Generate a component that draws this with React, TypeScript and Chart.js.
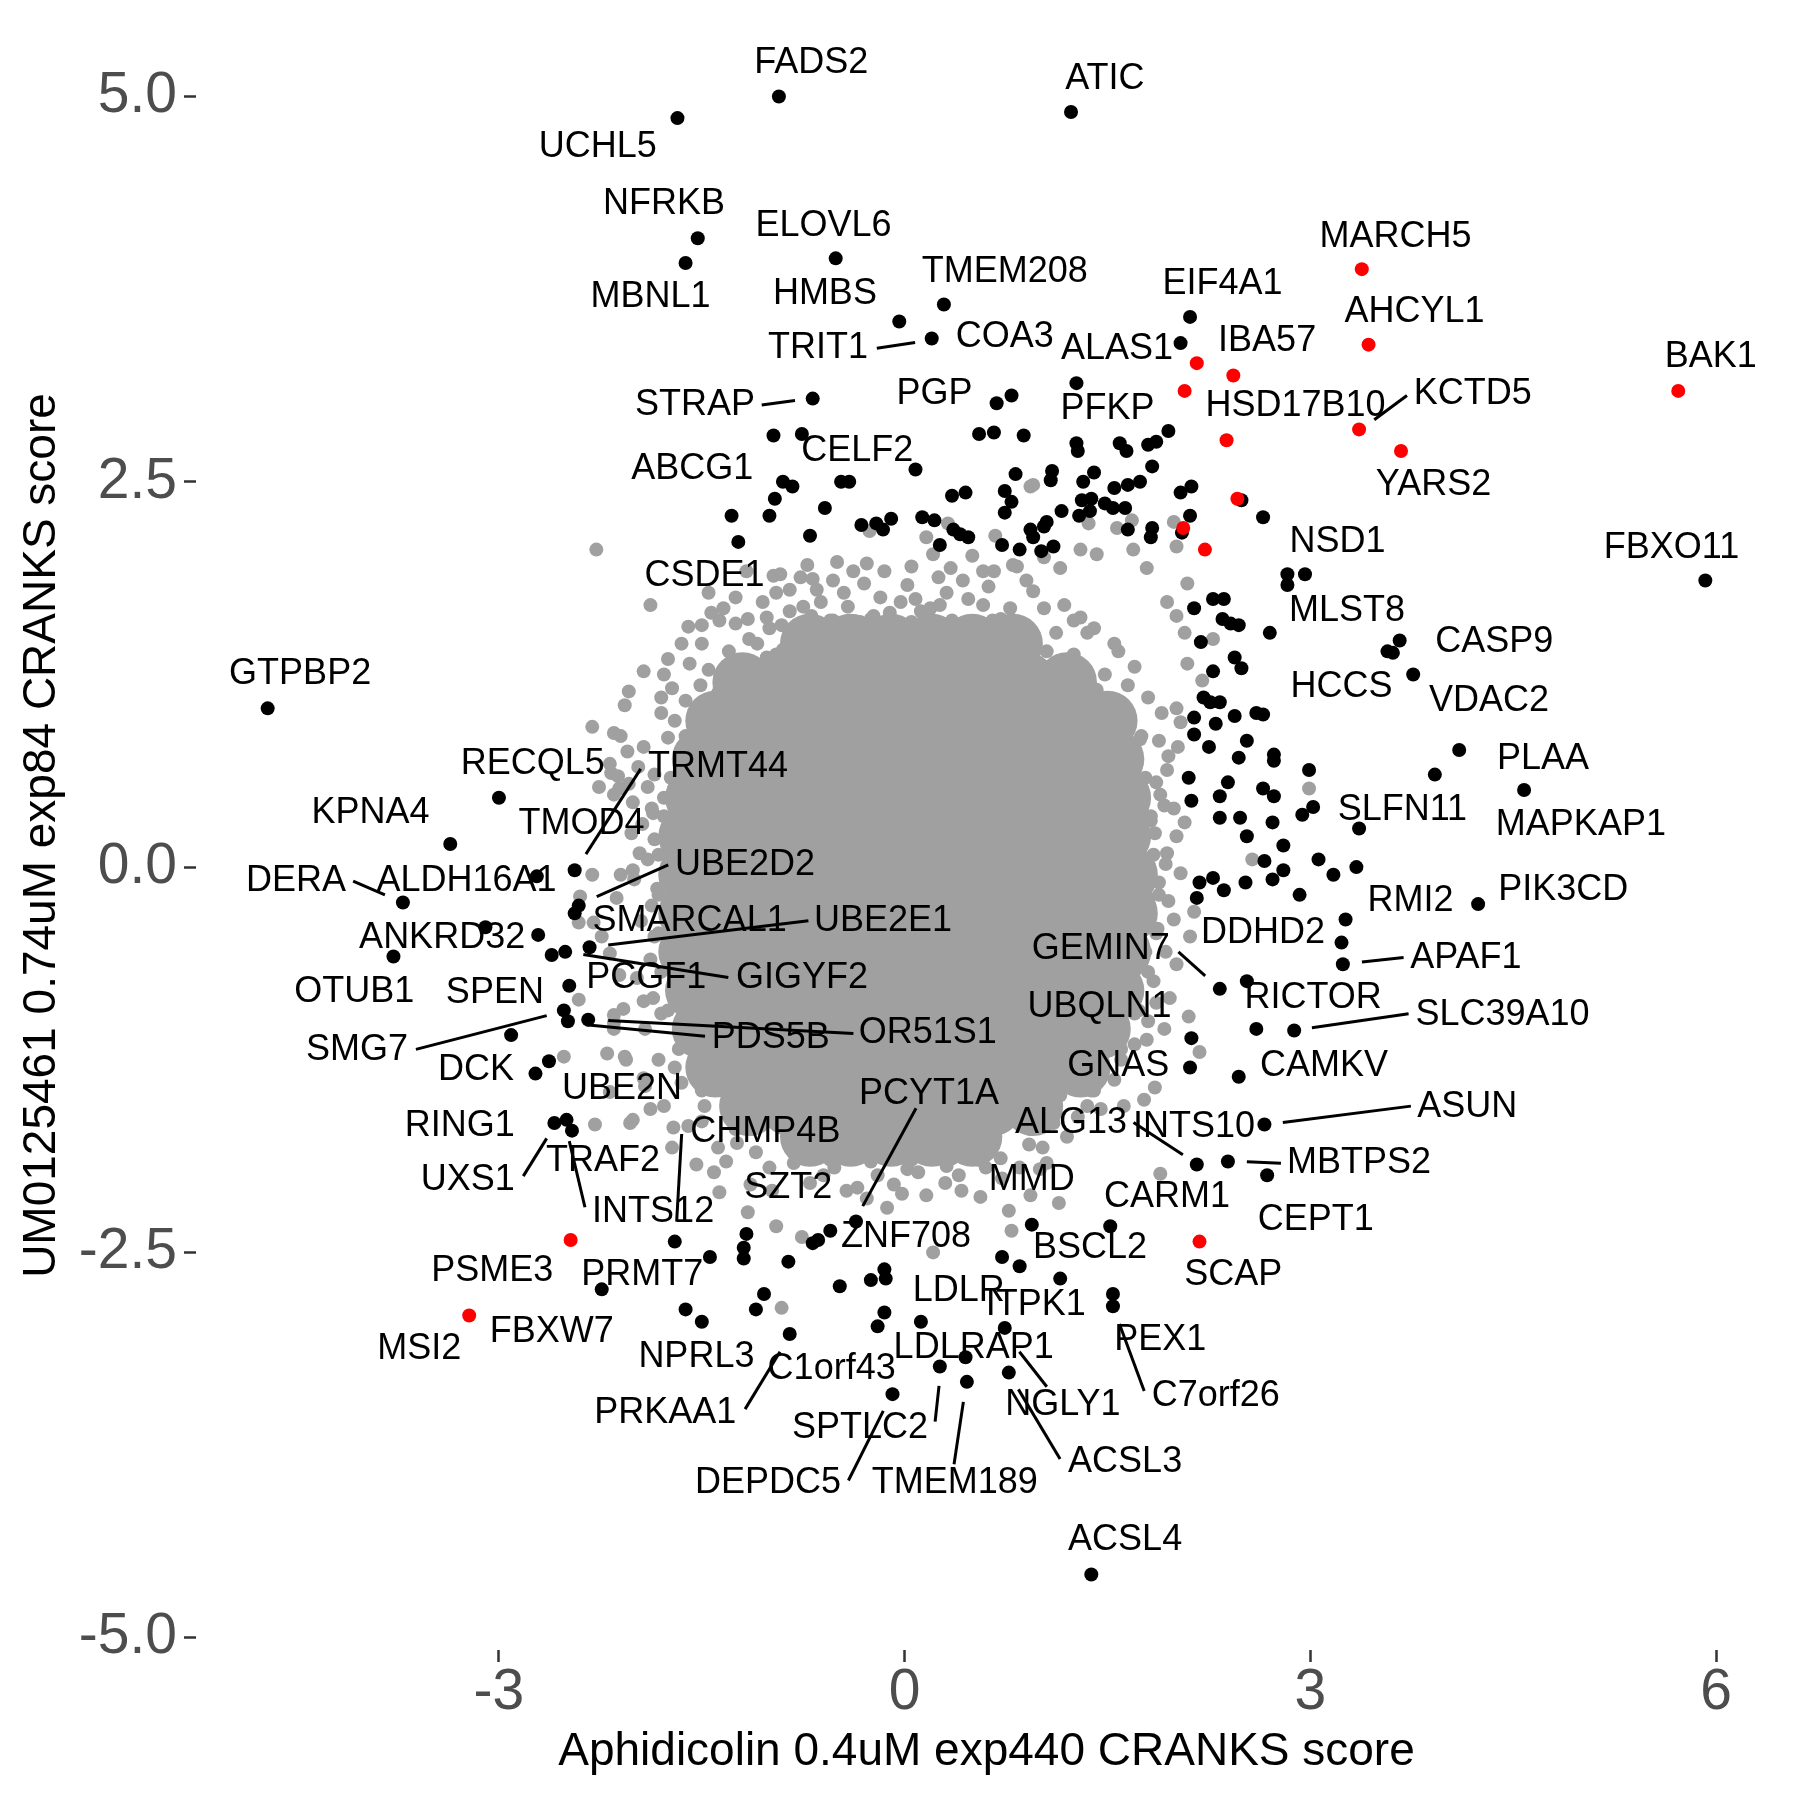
import React, { useEffect, useRef } from "react";
import { Chart, registerables } from "chart.js";
Chart.register(...registerables);

const xTicks = [-3, 0, 3, 6];
const yTicks = [-5, -2.5, 0, 2.5, 5];
const xLimits = [-5.24, 6.45];
const yLimits = [-5.08, 5.49];
const xTitle = "Aphidicolin 0.4uM exp440 CRANKS score";
const yTitle = "UM0125461 0.74uM exp84 CRANKS score";

// red highlighted genes
const redPoints: [number, number][] = [
  [3.38, 3.88], [3.43, 3.39], [2.16, 3.27], [2.43, 3.19], [2.07, 3.09], [2.38, 2.77],
  [3.36, 2.84], [3.67, 2.70], [2.46, 2.39], [2.06, 2.20], [2.22, 2.06], [5.72, 3.09],
  [-2.47, -2.42], [-3.22, -2.91], [2.18, -2.43],
];

// black hits
const blackPoints: [number, number][] = [
  [-0.93, 5.00], [-1.68, 4.86], [-1.53, 4.08], [-1.62, 3.92], [-0.51, 3.95], [-0.04, 3.54], [0.29, 3.65], [0.20, 3.43],
  [-0.68, 3.04], [0.68, 3.01], [0.79, 3.06], [-0.97, 2.80], [-0.76, 2.81], [0.55, 2.81], [0.66, 2.82], [0.88, 2.80],
  [0.08, 2.58], [0.82, 2.55], [-0.90, 2.50], [-0.83, 2.47], [-0.47, 2.50], [-0.41, 2.50], [0.35, 2.41], [0.45, 2.43],
  [0.74, 2.44], [0.79, 2.37], [0.74, 2.30], [-0.96, 2.39], [-1.00, 2.28], [-0.59, 2.33], [-1.28, 2.28], [-0.32, 2.22],
  [-0.21, 2.23], [-0.10, 2.26], [-0.16, 2.19], [0.13, 2.27], [0.22, 2.25], [0.36, 2.19], [0.47, 2.14], [0.41, 2.16],
  [0.93, 2.19], [1.03, 2.21], [0.95, 2.14], [1.05, 2.24], [-0.70, 2.15], [-1.23, 2.11], [0.26, 2.09], [0.72, 2.09],
  [0.85, 2.06], [1.01, 2.05],
  [1.23, 4.90], [2.11, 3.57], [2.04, 3.40], [1.27, 3.14], [1.27, 2.75], [1.28, 2.70], [1.59, 2.75], [1.64, 2.70],
  [1.80, 2.74], [1.86, 2.76], [1.95, 2.83], [1.83, 2.60], [1.09, 2.57], [1.08, 2.51], [1.40, 2.56], [1.32, 2.50],
  [1.55, 2.46], [1.65, 2.48], [1.74, 2.50], [2.04, 2.43], [2.12, 2.47], [2.49, 2.38], [2.65, 2.27], [2.11, 2.28],
  [1.16, 2.31], [1.31, 2.38], [1.38, 2.39], [1.29, 2.28], [1.37, 2.31], [1.48, 2.36], [1.54, 2.33], [1.63, 2.33],
  [1.83, 2.20], [1.82, 2.14], [1.10, 2.08], [1.65, 2.19], [2.83, 1.90], [2.96, 1.90], [2.05, 2.17], [5.92, 1.86],
  [2.83, 1.83], [2.28, 1.74], [2.36, 1.74], [2.14, 1.68], [2.35, 1.61], [2.41, 1.58], [2.47, 1.57], [2.70, 1.52],
  [2.19, 1.46], [3.66, 1.47], [3.57, 1.40], [3.61, 1.39], [2.44, 1.36], [2.49, 1.29], [2.28, 1.27], [3.76, 1.25],
  [2.21, 1.10], [2.33, 1.07], [2.26, 1.07], [2.44, 0.98], [2.60, 1.00], [2.65, 0.99], [2.14, 0.97], [2.30, 0.93],
  [2.14, 0.86], [2.53, 0.82], [2.25, 0.78], [2.47, 0.71], [2.73, 0.73], [2.73, 0.69], [4.10, 0.76], [2.99, 0.63],
  [2.10, 0.58], [2.39, 0.55], [3.92, 0.60], [2.65, 0.51], [2.73, 0.46], [2.33, 0.46], [2.12, 0.43], [3.02, 0.39],
  [2.94, 0.34], [2.33, 0.32], [2.48, 0.32], [2.72, 0.29], [3.36, 0.25], [2.53, 0.20], [2.80, 0.14], [2.66, 0.04],
  [3.06, 0.05], [2.80, -0.02], [2.72, -0.08], [3.34, 0.00], [3.17, -0.05], [2.18, -0.10], [2.28, -0.07], [2.36, -0.15],
  [2.52, -0.10], [2.16, -0.20], [2.92, -0.18], [3.26, -0.34], [3.23, -0.49], [3.24, -0.63], [2.33, -0.79], [2.53, -0.74],
  [2.60, -1.05], [2.88, -1.06], [2.12, -1.11], [2.11, -1.30], [2.47, -1.36], [4.58, 0.50], [4.24, -0.24],
  [-4.71, 1.03], [-3.00, 0.45], [-3.36, 0.15], [-2.44, -0.02], [-2.72, -0.06], [-3.71, -0.23], [-2.44, -0.30], [-2.41, -0.25],
  [-3.10, -0.39], [-2.71, -0.44], [-3.78, -0.58], [-2.61, -0.57], [-2.51, -0.55], [-2.33, -0.52], [-2.48, -0.77], [-2.52, -0.93],
  [-2.49, -1.00], [-2.34, -0.99], [-2.91, -1.09], [-2.63, -1.26], [-2.73, -1.34],
  [-2.59, -1.66], [-2.50, -1.64], [-2.46, -1.71], [-2.24, -2.74],
  [-1.70, -2.43], [-1.44, -2.53], [-1.17, -2.38], [-1.19, -2.47], [-1.19, -2.54], [-0.86, -2.56], [-0.68, -2.44], [-0.64, -2.42],
  [-0.55, -2.36], [-0.36, -2.30], [-1.04, -2.77], [-1.10, -2.87], [-1.62, -2.87], [-1.50, -2.95], [-0.48, -2.72], [-0.25, -2.68],
  [-0.15, -2.61], [-0.14, -2.67], [-0.85, -3.03], [-0.15, -2.89], [-0.20, -2.98], [0.12, -2.95], [0.74, -2.99], [0.26, -3.24],
  [0.45, -3.18], [0.46, -3.34], [-0.09, -3.42], [0.77, -3.28], [0.94, -2.32], [0.72, -2.53], [0.85, -2.59],
  [2.66, -1.67], [2.16, -1.93], [2.39, -1.91], [2.68, -2.00], [1.52, -2.33], [1.15, -2.67], [1.54, -2.77], [1.54, -2.85],
  [1.38, -4.59],
];

// individual grey (non-hit) genes around the edge of the cloud
const greyPoints: [number, number][] = [
  [-2.28, 2.06],
  [-2.04, 1.14], [-2.07, 1.05], [-2.31, 0.91], [-2.10, 0.85], [-2.18, 0.67], [-2.12, 0.59], [-2.26, 0.52], [-2.15, 0.47],
  [-2.04, 0.54], [-2.31, -0.05], [-2.10, -0.05], [-2.40, -0.19], [-2.41, -0.36], [-2.30, -0.36], [-2.24, -0.45], [-2.41, -0.86],
  [-2.08, -0.92], [-2.15, -1.01], [-2.52, -1.23], [-2.07, -1.23], [-2.15, -1.05], [-2.29, -1.67], [-2.03, -1.66],
  [-1.88, 1.70], [-0.97, 1.89], [-0.77, 1.88], [-0.95, 1.78], [-0.65, 1.80], [-0.53, 1.86], [-0.38, 1.92], [-0.28, 1.97],
  [0.66, 1.92], [0.83, 1.95], [-1.43, 1.65], [-1.50, 1.57], [-1.37, 1.60], [-1.16, 1.61], [-1.02, 1.62], [-0.91, 1.57],
  [-0.75, 1.69], [-0.69, 1.63], [-0.53, 1.60], [-0.42, 1.69], [-0.33, 1.59], [-0.23, 1.63], [-0.11, 1.65], [-0.03, 1.72],
  [0.08, 1.74], [0.19, 1.68], [0.31, 1.78], [0.43, 1.86], [0.58, 1.70], [0.71, 1.61], [0.95, 1.79], [1.03, 1.68],
  [-1.93, 1.27], [-1.78, 1.25], [-1.72, 1.16], [-1.59, 1.32], [-1.51, 1.18], [-1.40, 1.10], [-1.29, 1.18], [-1.22, 1.27],
  [-1.09, 1.30], [-1.02, 1.36], [-0.90, 1.41], [-0.82, 1.27], [-0.68, 1.43], [-0.63, 1.32], [-0.53, 1.48], [-2.15, 0.87],
  [-1.93, 0.78], [-1.75, 0.84], [-1.97, 0.65], [-1.85, 0.60], [-1.65, 0.74], [-1.54, 0.94], [-2.17, 0.61], [-2.11, 0.51],
  [-2.01, 0.42], [-1.87, 0.38], [-1.78, 0.45], [-1.69, 0.45], [-1.59, 0.56], [-1.85, 0.18], [-1.96, 0.09], [-2.01, -0.02],
  [-2.13, -0.20], [-1.83, -0.14], [-2.18, -0.56], [-2.11, -0.70], [-1.93, -0.87], [-2.15, -0.96], [-2.20, -1.21], [-2.06, -1.25],
  [-1.93, -1.37], [-2.18, -1.46],
  [-2.01, -1.64], [-1.88, -1.57], [-1.71, -1.69], [-1.72, -1.82], [-1.54, -1.93], [-1.41, -1.98], [-1.32, -1.91], [-1.24, -1.79],
  [-1.37, -2.11], [-1.14, -2.06], [-1.16, -2.24], [-0.95, -2.33], [-0.76, -2.40], [-0.91, -2.86], [-0.43, -2.10], [-0.28, -2.15],
  [-0.13, -2.21], [-0.08, -2.06], [0.02, -1.96], [0.16, -2.13], [0.21, -2.50], [0.31, -1.94], [0.56, -2.14], [0.77, -2.23],
  [0.79, -2.36], [0.93, -2.13], [1.00, -1.96], [0.71, -1.89],
  [0.93, -1.43], [1.15, -1.48], [1.45, -1.57], [1.77, -1.51], [1.85, -1.43], [1.89, -1.99], [1.14, -2.18], [1.05, -1.92],
  [0.92, -1.80], [1.10, -1.66],
  [2.09, 1.84], [1.94, 1.72], [2.01, 1.63], [2.07, 1.52], [2.28, 1.48], [2.20, 1.21], [2.09, 1.32], [2.01, 1.03],
  [2.04, 0.94], [2.02, 0.78], [1.94, 0.63], [1.89, 0.47], [1.99, 0.38], [2.07, 0.29], [2.01, 0.20], [1.94, 0.09],
  [2.04, -0.04], [2.14, -0.29], [2.11, -0.45], [1.99, -0.34], [1.84, -0.74], [1.96, -0.85], [2.10, -0.97], [2.18, -1.20],
  [2.99, 0.51], [2.57, 0.05], [1.79, -1.12], [2.01, -0.63],
  [0.95, 2.48], [1.68, 2.25], [1.99, 2.24], [2.01, 2.08], [1.36, 2.23], [1.57, 2.20], [1.30, 2.06], [1.42, 2.03],
  [1.69, 2.06], [1.15, 1.94], [1.79, 1.94],
  [0.32, 2.23], [-0.26, 2.18], [0.16, 2.14], [0.67, 2.15], [0.21, 2.03], [0.93, 2.47], [0.80, 1.96], [0.34, 1.94],
  [0.58, 1.92], [-0.68, 1.87], [-1.17, 1.92], [1.03, 2.01], [-0.92, 1.90], [-1.60, 1.56], [-1.34, 1.68], [-1.09, 1.45],
  [1.55, 1.45], [1.70, 1.30], [1.80, 1.10], [1.75, 0.85], [1.82, 0.30], [1.80, -0.20], [1.78, -0.55], [1.70, -0.95],
  [1.60, -1.25], [1.35, -1.55], [1.25, 1.60], [1.40, 1.55], [-1.80, 1.00], [-1.85, -0.45], [-1.80, -0.95], [-1.70, -1.30],
  [-1.50, -1.65], [-1.00, -1.95], [-0.60, -2.00], [0.40, -2.00], [0.60, -1.95],
  [-0.85, 1.66], [-0.62, 1.72], [-0.45, 1.78], [-0.18, 1.75], [0.02, 1.83], [0.26, 1.70], [0.47, 1.74], [0.62, 1.82],
  [0.78, 1.68], [0.90, 1.86], [-0.30, 1.84], [0.12, 1.66],
  [1.12, 1.52], [1.25, 1.38], [1.18, 1.70], [1.35, 1.52], [1.48, 1.25], [1.42, 1.10], [1.58, 1.40], [1.65, 1.18], [1.30, 1.62],
  [1.90, 1.00], [1.88, 0.82], [1.95, 0.72], [1.86, 0.55], [1.92, 0.40], [1.85, 0.22], [1.93, 0.02], [1.88, -0.10],
  [1.95, -0.22], [1.87, -0.40], [1.93, -0.55], [1.86, -0.88], [1.80, -1.00], [1.70, -1.15], [1.92, -1.05],
  [1.55, -1.38], [1.40, -1.45], [1.62, -1.55], [1.28, -1.62], [1.20, -1.75], [1.02, -1.82], [0.90, -1.65], [0.85, -1.95],
  [0.72, -2.02], [0.55, -1.90], [0.42, -2.10], [0.30, -2.05], [0.10, -1.98], [-0.02, -2.12], [-0.20, -2.00], [-0.35, -2.08],
  [-0.52, -1.95], [-0.70, -2.05], [-0.82, -1.92], [-0.98, -2.10], [-1.10, -1.85],
  [-1.25, -1.70], [-1.38, -1.82], [-1.48, -1.55], [-1.60, -1.68], [-1.65, -1.40], [-1.78, -1.55], [-1.82, -1.25], [-1.92, -1.42],
  [-1.92, -1.05], [-1.86, -0.85], [-1.98, -0.72], [-1.88, -0.60], [-1.95, -0.35], [-1.87, -0.25], [-2.00, -0.08], [-1.90, 0.05],
  [-1.94, 0.28], [-1.86, 0.35], [-2.02, 0.22], [-1.90, 0.52], [-2.05, 0.75],
  [-1.70, 0.95], [-1.62, 1.08], [-1.80, 1.10], [-1.45, 1.28], [-1.30, 1.40], [-1.50, 1.45], [-1.15, 1.48], [-1.25, 1.58],
  [-1.00, 1.55], [-0.80, 1.55],
  [-1.25, 1.75], [-1.05, 1.72], [-0.85, 1.80], [-1.45, 1.78], [-0.72, 1.96], [-0.50, 1.98], [-0.15, 1.92], [0.05, 1.95],
  [0.25, 1.88], [0.50, 2.02], [-1.65, 1.45], [-1.75, 1.35],
  [-0.55, 1.60], [-0.25, 1.61], [0.05, 1.59], [0.35, 1.60], [0.65, 1.60], [-0.95, 1.38], [1.05, 1.40], [-1.38, 1.13],
  [1.42, 1.15], [-1.62, 0.85], [1.74, 0.83], [-1.73, 0.58], [1.78, 0.58], [-1.78, 0.33], [1.82, 0.33], [-1.82, 0.08],
  [1.84, 0.08], [-1.82, -0.18], [1.88, -0.18], [-1.82, -0.43], [1.86, -0.43], [-1.80, -0.68], [1.80, -0.68], [-1.75, -0.93],
  [1.73, -0.93], [-1.67, -1.18], [1.60, -1.18], [-1.50, -1.45], [1.38, -1.45], [-1.12, -1.70], [0.93, -1.70], [-0.55, -1.90],
  [-0.25, -1.91], [0.05, -1.90], [0.35, -1.89],
];

// the solid, fully overlapping centre of the grey cloud
const greyCore: [number, number][] = [
  [-0.70, 1.45], [-0.40, 1.45], [-0.10, 1.45], [0.20, 1.45], [0.50, 1.45], [0.80, 1.45],
  [-1.20, 1.20], [-0.90, 1.20], [-0.60, 1.20], [-0.30, 1.20], [0.00, 1.20], [0.30, 1.20], [0.60, 1.20], [0.90, 1.20], [1.20, 1.20],
  [-1.40, 0.95], [-1.10, 0.95], [-0.80, 0.95], [-0.50, 0.95], [-0.20, 0.95], [0.10, 0.95], [0.40, 0.95], [0.70, 0.95], [1.00, 0.95], [1.30, 0.95], [1.50, 0.95],
  [-1.50, 0.70], [-1.20, 0.70], [-0.90, 0.70], [-0.60, 0.70], [-0.30, 0.70], [0.00, 0.70], [0.30, 0.70], [0.60, 0.70], [0.90, 0.70], [1.20, 0.70], [1.55, 0.70],
  [-1.55, 0.45], [-1.25, 0.45], [-0.95, 0.45], [-0.65, 0.45], [-0.35, 0.45], [-0.05, 0.45], [0.25, 0.45], [0.55, 0.45], [0.85, 0.45], [1.15, 0.45], [1.45, 0.45], [1.60, 0.45],
  [-1.60, 0.20], [-1.30, 0.20], [-1.00, 0.20], [-0.70, 0.20], [-0.40, 0.20], [-0.10, 0.20], [0.20, 0.20], [0.50, 0.20], [0.80, 0.20], [1.10, 0.20], [1.40, 0.20], [1.60, 0.20],
  [-1.60, -0.05], [-1.30, -0.05], [-1.00, -0.05], [-0.70, -0.05], [-0.40, -0.05], [-0.10, -0.05], [0.20, -0.05], [0.50, -0.05], [0.80, -0.05], [1.10, -0.05], [1.40, -0.05], [1.65, -0.05],
  [-1.60, -0.30], [-1.30, -0.30], [-1.00, -0.30], [-0.70, -0.30], [-0.40, -0.30], [-0.10, -0.30], [0.20, -0.30], [0.50, -0.30], [0.80, -0.30], [1.10, -0.30], [1.40, -0.30], [1.65, -0.30],
  [-1.60, -0.55], [-1.30, -0.55], [-1.00, -0.55], [-0.70, -0.55], [-0.40, -0.55], [-0.10, -0.55], [0.20, -0.55], [0.50, -0.55], [0.80, -0.55], [1.10, -0.55], [1.40, -0.55], [1.60, -0.55],
  [-1.55, -0.80], [-1.25, -0.80], [-0.95, -0.80], [-0.65, -0.80], [-0.35, -0.80], [-0.05, -0.80], [0.25, -0.80], [0.55, -0.80], [0.85, -0.80], [1.15, -0.80], [1.45, -0.80], [1.55, -0.80],
  [-1.50, -1.05], [-1.20, -1.05], [-0.90, -1.05], [-0.60, -1.05], [-0.30, -1.05], [0.00, -1.05], [0.30, -1.05], [0.60, -1.05], [0.90, -1.05], [1.20, -1.05], [1.45, -1.05],
  [-1.40, -1.30], [-1.10, -1.30], [-0.80, -1.30], [-0.50, -1.30], [-0.20, -1.30], [0.10, -1.30], [0.40, -1.30], [0.70, -1.30], [1.00, -1.30], [1.30, -1.30],
  [-1.15, -1.55], [-0.85, -1.55], [-0.55, -1.55], [-0.25, -1.55], [0.05, -1.55], [0.35, -1.55], [0.65, -1.55], [0.95, -1.55],
  [-0.70, -1.75], [-0.40, -1.75], [-0.10, -1.75], [0.20, -1.75], [0.50, -1.75],
];

// gene labels (text, x, y of the label centre in data units)
const geneLabels: [string, number, number][] = [
  ["FADS2", -0.69, 5.22], ["UCHL5", -2.27, 4.67], ["ATIC", 1.48, 5.11], ["NFRKB", -1.78, 4.30],
  ["MBNL1", -1.88, 3.70], ["ELOVL6", -0.60, 4.16], ["HMBS", -0.59, 3.72], ["TMEM208", 0.74, 3.86],
  ["TRIT1", -0.64, 3.37], ["COA3", 0.74, 3.44], ["STRAP", -1.55, 3.00], ["PGP", 0.22, 3.07],
  ["CELF2", -0.35, 2.70], ["ABCG1", -1.57, 2.58], ["CSDE1", -1.48, 1.89], ["MARCH5", 3.63, 4.09],
  ["EIF4A1", 2.35, 3.78], ["AHCYL1", 3.77, 3.60], ["ALAS1", 1.57, 3.36], ["IBA57", 2.68, 3.41],
  ["PFKP", 1.50, 2.97], ["HSD17B10", 2.89, 2.99], ["KCTD5", 4.20, 3.07], ["YARS2", 3.91, 2.48],
  ["NSD1", 3.20, 2.11], ["BAK1", 5.96, 3.31], ["FBXO11", 5.67, 2.07], ["MLST8", 3.27, 1.66],
  ["CASP9", 4.36, 1.46], ["HCCS", 3.23, 1.17], ["VDAC2", 4.32, 1.08], ["PLAA", 4.72, 0.70],
  ["MAPKAP1", 5.00, 0.27], ["SLFN11", 3.68, 0.37], ["PIK3CD", 4.87, -0.15], ["RMI2", 3.74, -0.22],
  ["DDHD2", 2.65, -0.43], ["APAF1", 4.15, -0.59], ["GEMIN7", 1.45, -0.53], ["RICTOR", 3.02, -0.85],
  ["UBQLN1", 1.44, -0.91], ["SLC39A10", 4.42, -0.96], ["GNAS", 1.58, -1.29], ["CAMKV", 3.10, -1.29],
  ["GTPBP2", -4.47, 1.25], ["RECQL5", -2.75, 0.67], ["KPNA4", -3.95, 0.35], ["TMOD4", -2.39, 0.28],
  ["TRMT44", -1.38, 0.65], ["DERA", -4.50, -0.09], ["ALDH16A1", -3.24, -0.09], ["ANKRD32", -3.42, -0.46],
  ["OTUB1", -4.07, -0.81], ["SPEN", -3.03, -0.82], ["SMG7", -4.05, -1.19], ["DCK", -3.17, -1.32],
  ["UBE2D2", -1.18, 0.01], ["SMARCAL1", -1.59, -0.35], ["UBE2E1", -0.16, -0.35], ["GIGYF2", -0.76, -0.72],
  ["PCGF1", -1.91, -0.72], ["OR51S1", 0.17, -1.08], ["PDS5B", -0.99, -1.11], ["UBE2N", -2.09, -1.44],
  ["PCYT1A", 0.18, -1.47], ["RING1", -3.29, -1.68], ["UXS1", -3.23, -2.03], ["TRAF2", -2.23, -1.91],
  ["INTS12", -1.86, -2.24], ["CHMP4B", -1.03, -1.72], ["SZT2", -0.86, -2.08], ["ZNF708", 0.01, -2.40],
  ["PSME3", -3.05, -2.62], ["PRMT7", -1.94, -2.65], ["FBXW7", -2.61, -3.02], ["MSI2", -3.59, -3.13],
  ["NPRL3", -1.54, -3.18], ["PRKAA1", -1.77, -3.54], ["C1orf43", -0.54, -3.26], ["LDLR", 0.40, -2.75],
  ["ITPK1", 0.97, -2.84], ["LDLRAP1", 0.51, -3.12], ["SPTLC2", -0.33, -3.64], ["DEPDC5", -1.01, -4.00],
  ["TMEM189", 0.37, -4.00], ["NGLY1", 1.17, -3.49], ["ACSL3", 1.63, -3.86], ["PEX1", 1.89, -3.07],
  ["C7orf26", 2.30, -3.43], ["ACSL4", 1.63, -4.37], ["SCAP", 2.43, -2.65], ["BSCL2", 1.37, -2.47],
  ["CARM1", 1.94, -2.14], ["CEPT1", 3.04, -2.29], ["MBTPS2", 3.36, -1.92], ["INTS10", 2.14, -1.69],
  ["ALG13", 1.23, -1.66], ["MMD", 0.94, -2.03], ["ASUN", 4.16, -1.56],
];

// leader segments joining a label to its gene (x1, y1, x2, y2 in data units)
const leaderSegments: [number, number, number, number][] = [
  [-0.206, 3.367, 0.077, 3.404],
  [-1.057, 2.999, -0.811, 3.027],
  [3.714, 3.060, 3.472, 2.903],
  [3.381, -0.616, 3.689, -0.587],
  [2.024, -0.550, 2.222, -0.706],
  [3.011, -1.042, 3.726, -0.952],
  [-1.952, 0.637, -2.357, 0.084],
  [-4.078, -0.091, -3.843, -0.180],
  [-3.614, -1.183, -2.647, -0.964],
  [-1.748, 0.014, -2.277, -0.191],
  [-0.712, -0.348, -2.192, -0.505],
  [-1.304, -0.717, -2.376, -0.567],
  [-0.379, -1.080, -2.192, -0.995],
  [-1.476, -1.098, -2.357, -1.023],
  [0.084, -1.565, -0.310, -2.200],
  [-2.820, -2.005, -2.647, -1.760],
  [-2.480, -1.778, -2.364, -2.207],
  [-1.649, -1.732, -1.686, -2.300],
  [-1.180, -3.517, -0.922, -3.145],
  [0.254, -3.366, 0.225, -3.598],
  [-0.416, -3.980, -0.158, -3.528],
  [0.365, -3.875, 0.434, -3.470],
  [0.848, -3.145, 1.051, -3.372],
  [0.841, -3.389, 1.149, -3.841],
  [1.771, -3.400, 1.588, -2.965],
  [2.530, -1.912, 2.782, -1.922],
  [1.692, -1.657, 2.057, -1.866],
  [2.796, -1.657, 3.743, -1.551],
];

const FONT = '"Liberation Sans", Arial, Helvetica, sans-serif';

const labelPlugin = {
  id: "geneLabels",
  afterDatasetsDraw(chart: any) {
    const { ctx } = chart;
    const xs = chart.scales.x;
    const ys = chart.scales.y;
    ctx.save();
    ctx.strokeStyle = "#000000";
    ctx.lineWidth = 3;
    ctx.lineCap = "butt";
    leaderSegments.forEach(([x1, y1, x2, y2]) => {
      ctx.beginPath();
      ctx.moveTo(xs.getPixelForValue(x1), ys.getPixelForValue(y1));
      ctx.lineTo(xs.getPixelForValue(x2), ys.getPixelForValue(y2));
      ctx.stroke();
    });
    ctx.fillStyle = "#000000";
    ctx.font = `36px ${FONT}`;
    ctx.textAlign = "center";
    ctx.textBaseline = "middle";
    geneLabels.forEach(([t, x, y]) => {
      ctx.fillText(t, xs.getPixelForValue(x), ys.getPixelForValue(y));
    });
    ctx.restore();
  },
};

const toXY = (arr: [number, number][]) => arr.map(([x, y]) => ({ x, y }));

export default function App() {
  const ref = useRef<HTMLCanvasElement | null>(null);
  useEffect(() => {
    if (!ref.current) return;
    const chart = new Chart(ref.current, {
      type: "scatter",
      data: {
        datasets: [
          { label: "red", data: toXY(redPoints), backgroundColor: "#FF0000", pointRadius: 7, pointBorderWidth: 0, borderWidth: 0, order: 0 },
          { label: "hits", data: toXY(blackPoints), backgroundColor: "#000000", pointRadius: 7, pointBorderWidth: 0, borderWidth: 0, order: 1 },
          { label: "grey", data: toXY(greyPoints), backgroundColor: "#A0A0A0", pointRadius: 7, pointBorderWidth: 0, borderWidth: 0, order: 2 },
          { label: "greyCore", data: toXY(greyCore), backgroundColor: "#A0A0A0", pointRadius: 30, pointBorderWidth: 0, borderWidth: 0, order: 3 },
        ],
      },
      options: {
        responsive: false,
        animation: false,
        devicePixelRatio: 1,
        layout: { autoPadding: false, padding: { left: 0, top: 21, right: 23, bottom: 0 } },
        plugins: { legend: { display: false }, tooltip: { enabled: false } },
        scales: {
          x: {
            type: "linear",
            min: xLimits[0],
            max: xLimits[1],
            afterFit: (s: any) => { s.height = 150; s.paddingLeft = 0; s.paddingRight = 0; },
            afterBuildTicks: (s: any) => { s.ticks = xTicks.map((v) => ({ value: v })); },
            grid: { drawOnChartArea: false, drawTicks: true, tickLength: 12, tickColor: "#333333", tickWidth: 2.5 },
            border: { display: false },
            ticks: { color: "#4D4D4D", font: { family: FONT, size: 57, lineHeight: 1.0 }, padding: 3, maxRotation: 0, callback: (v: any) => String(v) },
            title: { display: true, text: xTitle, color: "#000000", font: { family: FONT, size: 46, lineHeight: 1.2 }, padding: { top: 0, bottom: 20 } },
          },
          y: {
            type: "linear",
            min: yLimits[0],
            max: yLimits[1],
            afterFit: (s: any) => { s.width = 196; s.paddingTop = 0; s.paddingBottom = 0; },
            afterBuildTicks: (s: any) => { s.ticks = yTicks.map((v) => ({ value: v })); },
            grid: { drawOnChartArea: false, drawTicks: true, tickLength: 12, tickColor: "#333333", tickWidth: 2.5 },
            border: { display: false },
            ticks: { color: "#4D4D4D", font: { family: FONT, size: 57 }, padding: 7, callback: (v: any) => Number(v).toFixed(1) },
            title: { display: true, text: yTitle, color: "#000000", font: { family: FONT, size: 46, lineHeight: 1.2 }, padding: { top: 15, bottom: 0 } },
          },
        },
      },
      plugins: [labelPlugin],
    });
    return () => chart.destroy();
  }, []);
  return (
    <div style={{ position: "absolute", left: 0, top: 0, width: 1800, height: 1800, background: "#FFFFFF" }}>
      <canvas ref={ref} width={1800} height={1800} style={{ display: "block", width: 1800, height: 1800 }} />
    </div>
  );
}
